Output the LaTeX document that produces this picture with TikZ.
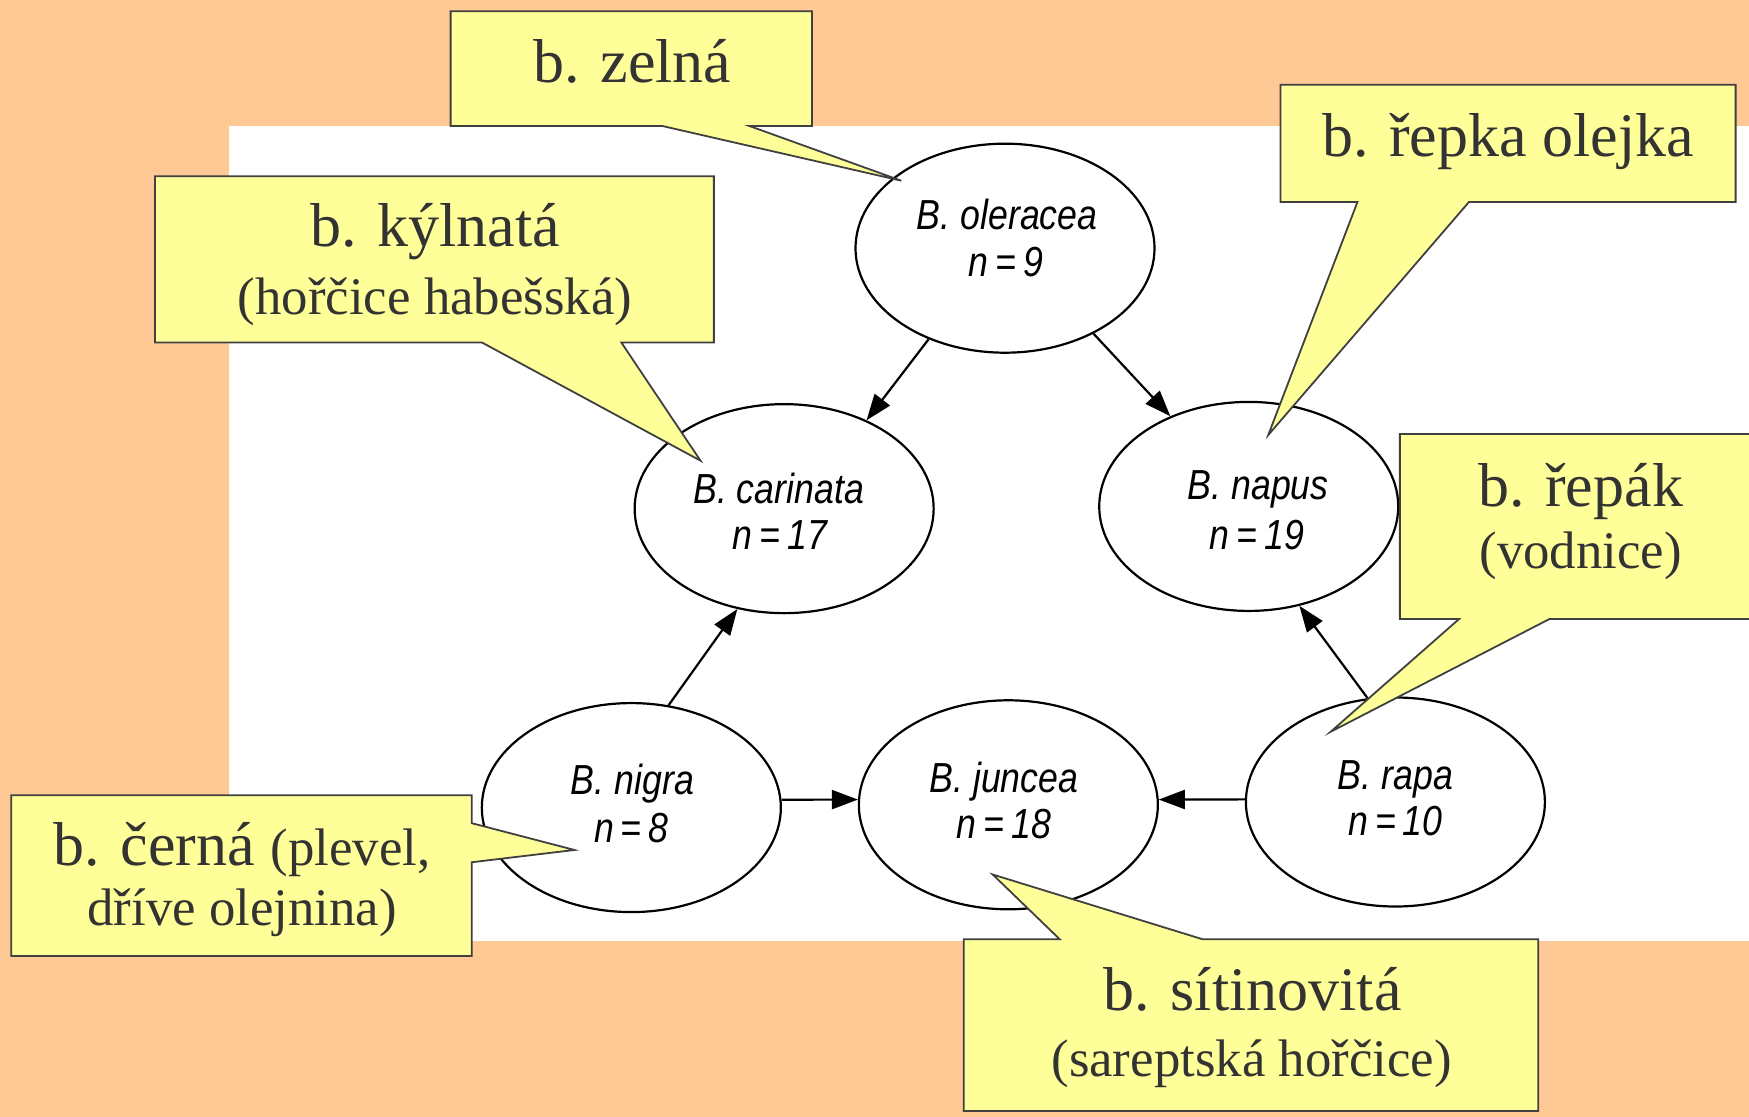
\documentclass[tikz,border=0pt]{standalone}
\usepackage{fontspec}
\setmainfont{Liberation Serif}
\newfontfamily\spfont[FakeStretch=0.85]{Liberation Sans}
\usetikzlibrary{arrows.meta,shapes.geometric}
\definecolor{peach}{HTML}{FFC996}
\definecolor{callfill}{HTML}{FFFF99}
\definecolor{callline}{HTML}{404040}
\definecolor{calltext}{HTML}{333333}
\begin{document}
\begin{tikzpicture}[x=0.5577pt,y=-0.5577pt,
  species/.style={draw=black, line width=1.1pt, ellipse, minimum width=149.5pt, minimum height=104.5pt, inner sep=0pt},
  sp/.style={font=\spfont\itshape\fontsize{21}{21}\selectfont, anchor=base, inner sep=0pt},
  big/.style={font=\fontsize{31}{31}\selectfont, text=calltext, anchor=base, inner sep=0pt},
  small/.style={font=\fontsize{26.4}{26.4}\selectfont, text=calltext, anchor=base, inner sep=0pt},
  callout/.style={fill=callfill, draw=callline, line width=0.9pt, line join=miter},
  link/.style={line width=1.1pt, -{Triangle[length=13pt,width=9.5pt]}},
]
\fill[peach] (0,0) rectangle (1568,1001);
\useasboundingbox (0,0) rectangle (1568,1001);
\fill[white] (205,113) rectangle (1568,844);

% species ellipses
\node[species] (ole) at (901,222.5) {};
\node[species] (car) at (703,456) {};
\node[species] (nap) at (1119.5,454) {};
\node[species] (nig) at (566,724) {};
\node[species] (jun) at (904,721.5) {};
\node[species] (rap) at (1251,719) {};

\node[sp] (ole1) at (903,206) {B. oleracea};
\node[sp] (ole2) at (902,248) {n\,=\,9};
\node[sp] (car1) at (698,451.5) {B. carinata};
\node[sp] (car2) at (699,493) {n\,=\,17};
\node[sp] (nap1) at (1128,448) {B. napus};
\node[sp] (nap2) at (1127,493) {n\,=\,19};
\node[sp] (nig1) at (567,712) {B. nigra};
\node[sp] (nig2) at (566,755) {n\,=\,8};
\node[sp] (jun1) at (900,710.7) {B. juncea};
\node[sp] (jun2) at (900,752) {n\,=\,18};
\node[sp] (rap1) at (1251,707.5) {B. rapa};
\node[sp] (rap2) at (1251,748.7) {n\,=\,10};

% arrows
\draw[link] (ole.230) -- (car.47);
\draw[link] (ole.316) -- (nap.131);
\draw[link] (nig.70) -- (car.245);
\draw[link] (nig.3) -- (jun.178);
\draw[link] (rap.179) -- (jun.2);
\draw[link] (rap.105) -- (nap.297);

% callouts
\coordinate (zt) at (808,162);
\draw[callout] (404,10) -- (728,10) -- (728,113) -- (672,113) -- (zt) -- (594,113) -- (404,113) -- cycle;
\node[big] (zel) at (567,74) {b. zelná};

\coordinate (kt) at (628,413);
\draw[callout] (139,158) -- (640,158) -- (640,307) -- (557,307) -- (kt) -- (432,307) -- (139,307) -- cycle;
\node[big] (kyl1) at (390,221) {b. kýlnatá};
\node[small] (kyl2) at (390,282) {(hořčice habešská)};

\coordinate (rt) at (1137,390);
\draw[callout] (1148,76) -- (1556,76) -- (1556,181) -- (1317,181) -- (rt) -- (1217,181) -- (1148,181) -- cycle;
\node[big] (rep) at (1352,140) {b. řepka olejka};

\coordinate (pt) at (1193,656);
\draw[callout] (1255,389) -- (1575,389) -- (1575,555) -- (1389,555) -- (pt) -- (1308,555) -- (1255,555) -- cycle;
\node[big] (rpk1) at (1417,454) {b. řepák};
\node[small] (rpk2) at (1417,510) {(vodnice)};

\coordinate (ct) at (515,762);
\draw[callout] (10,713) -- (423,713) -- (423,738) -- (ct) -- (423,773) -- (423,857) -- (10,857) -- cycle;
\node[big] (cer1) at (217,776) {b. černá {\fontsize{26.4}{26.4}\selectfont(plevel,}};
\node[small] (cer2) at (217,830) {dříve olejnina)};

\coordinate (st) at (890,784);
\draw[callout] (864,842) -- (950,842) -- (st) -- (1078,842) -- (1379,842) -- (1379,996) -- (864,996) -- cycle;
\node[big] (sit1) at (1123,906) {b. sítinovitá};
\node[small] (sit2) at (1122,965.5) {(sareptská hořčice)};
\end{tikzpicture}
\end{document}
